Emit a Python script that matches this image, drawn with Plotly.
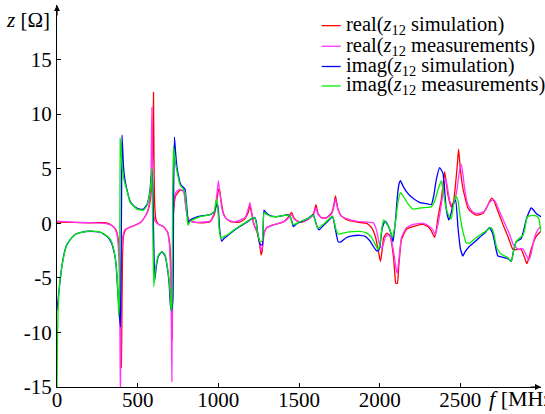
import plotly.graph_objects as go

# ---------------- data (frequency in MHz, impedance in ohm) ----------------
f_real_sim = [0, 100, 200, 300, 340, 365, 380, 390, 396, 399, 402, 406, 412, 425, 445, 480, 520, 545,
              565, 580, 590, 595, 598, 601, 606, 614, 630, 660, 685, 698, 706, 711, 714, 717, 722, 735,
              760, 785, 800, 815, 850, 900, 950, 975, 990, 1000, 1006, 1015, 1030, 1045, 1075, 1130,
              1165, 1185, 1196, 1205, 1220, 1240, 1255, 1265, 1272, 1283, 1300, 1340, 1400, 1430, 1454,
              1468, 1490, 1520, 1560, 1590, 1605, 1618, 1640, 1670, 1700, 1715, 1726, 1740, 1760, 1800,
              1860, 1920, 1950, 1975, 1995, 2005, 2015, 2025, 2045, 2065, 2085, 2095, 2100, 2110, 2118,
              2135, 2166, 2207, 2269, 2300, 2320, 2341, 2352, 2361, 2382, 2398, 2403, 2412, 2423, 2444,
              2458, 2470, 2482, 2489, 2500, 2516, 2547, 2570, 2599, 2640, 2665, 2681, 2695, 2710, 2733,
              2764, 2795, 2826, 2850, 2877, 2895, 2912, 2925, 2939, 2970, 3000]
real_sim = [0.1, 0.08, 0.05, 0.05, -0.2, -0.6, -1.5, -4, -10, -13.2, -9, -3, -1.2, -0.6, -0.4, -0.2, 0.1, 0.6,
            1.2, 2.3, 4.5, 8, 12, 6, 1.5, 0.3, -0.1, -0.3, -0.8, -1.8, -4, -8, -10.7, -5, 1, 2.5,
            3.0, 3.0, 1.5, 0.3, 0.1, 0.05, 0.15, 0.8, 2.0, 3.0, 3.2, 2.3, 1.0, 0.5, 0.15, 0.1,
            0.4, 1.0, 1.6, 1.0, -0.1, -0.8, -1.8, -2.9, -2.5, -0.9, -0.4, -0.15, 0.1, 0.5, 1.0,
            0.5, 0.2, 0.1, 0.4, 0.9, 1.7, 0.9, 0.5, 0.5, 0.9, 1.6, 2.5, 1.4, 0.7, 0.3,
            0.1, 0.0, -0.4, -1.3, -2.8, -3.5, -2.5, -1.3, -0.9, -1.2, -3.0, -4.8, -5.5, -5.5, -4.0,
            -1.5, -0.55, -0.3, -0.1, -0.3, -0.7, -1.3, -0.5, 0.5, 2.2, 4.2, 4.7, 3.8, 2.6, 1.5,
            2.0, 3.5, 5.5, 6.8, 5.0, 3.2, 1.4, 1.0, 0.75, 0.9, 1.5, 2.0, 2.3, 2.0, 1.1,
            -0.1, -1.2, -2.4, -2.4, -2.4, -3.0, -3.7, -3.2, -2.4, -1.2, -0.7]

f_real_meas = [0, 100, 200, 300, 340, 360, 375, 385, 390, 393, 396, 400, 408, 420, 445, 480, 520, 545,
               565, 577, 583, 588, 592, 598, 608, 630, 660, 685, 697, 704, 709, 712, 715, 720, 735, 760,
               785, 800, 815, 850, 950, 975, 990, 1000, 1008, 1020, 1035, 1060, 1100, 1165, 1185, 1196,
               1205, 1220, 1240, 1255, 1265, 1275, 1285, 1300, 1340, 1400, 1430, 1454, 1468, 1490, 1520,
               1560, 1590, 1605, 1618, 1640, 1670, 1700, 1715, 1726, 1740, 1760, 1800, 1870, 1960, 1980,
               2000, 2015, 2035, 2060, 2085, 2100, 2108, 2118, 2135, 2166, 2207, 2269, 2300, 2330, 2345,
               2360, 2380, 2400, 2410, 2420, 2435, 2450, 2465, 2480, 2495, 2506, 2516, 2530, 2550, 2580,
               2610, 2650, 2680, 2705, 2720, 2745, 2775, 2805, 2830, 2860, 2885, 2905, 2925, 2940, 2960,
               2980, 3000]
real_meas = [0.2, 0.1, 0.05, 0.0, -0.2, -0.5, -1.3, -4, -10, -16, -10, -3, -1.2, -0.6, -0.4, -0.2, 0.1, 0.6,
             1.3, 2.5, 5, 10.6, 5, 1.0, 0.2, -0.1, -0.3, -0.8, -2, -5, -10, -14.5, -6, 1, 2.8, 3.1,
             2.9, 1.2, 0.3, 0.1, 0.2, 1.0, 2.5, 3.9, 3.0, 1.5, 0.7, 0.3, 0.15, 0.5, 1.3, 1.9,
             1.2, 0.0, -0.8, -1.7, -2.5, -2.0, -0.8, -0.4, -0.15, 0.1, 0.4, 0.8, 0.4, 0.2, 0.15,
             0.4, 0.8, 1.4, 0.8, 0.5, 0.5, 0.8, 1.4, 2.2, 1.3, 0.7, 0.4, 0.15, 0.05, -0.6,
             -2.0, -2.3, -1.3, -1.0, -2.5, -4.0, -4.6, -3.5, -1.3, -0.4, -0.1, 0.0, -0.2, -0.6, -1.1,
             -0.2, 1.5, 3.5, 4.1, 3.3, 2.0, 1.6, 2.0, 3.2, 4.8, 5.4, 4.5, 2.8, 1.6, 1.0,
             0.9, 1.1, 1.9, 2.2, 1.9, 1.0, 0.0, -1.0, -2.0, -2.4, -2.3, -2.8, -3.4, -2.7, -1.3,
             -0.6, -0.3]

f_imag_sim = [0, 10, 25, 41, 60, 82, 110, 144, 206, 268, 309, 335, 350, 365, 375, 385, 393, 396, 400, 403,
              408, 412, 420, 433, 454, 475, 495, 515, 536, 557, 570, 577, 585, 590, 595, 600, 606, 615,
              629, 650, 670, 685, 695, 703, 710, 718, 723, 728, 735, 743, 755, 763, 775, 783, 794, 804,
              814, 825, 860, 887, 920, 949, 975, 985, 993, 1000, 1008, 1021, 1035, 1052, 1093, 1134,
              1176, 1205, 1225, 1235, 1245, 1258, 1272, 1283, 1295, 1320, 1360, 1400, 1430, 1445, 1458,
              1464, 1480, 1506, 1550, 1588, 1600, 1612, 1625, 1645, 1680, 1708, 1725, 1743, 1760, 1795,
              1830, 1877, 1910, 1939, 1960, 1980, 1992, 2001, 2015, 2032, 2045, 2060, 2075, 2083, 2093,
              2100, 2110, 2120, 2129, 2145, 2166, 2190, 2207, 2250, 2290, 2320, 2335, 2351, 2372, 2392,
              2403, 2413, 2429, 2444, 2454, 2471, 2485, 2500, 2516, 2530, 2557, 2590, 2619, 2650, 2681,
              2702, 2720, 2733, 2760, 2785, 2800, 2816, 2830, 2846, 2877, 2895, 2908, 2925, 2939, 2955,
              2970, 3000]
imag_sim = [-8, -6.5, -4.5, -3.0, -2.0, -1.5, -1.05, -0.85, -0.73, -0.82, -1.2, -1.7, -2.4, -3.6, -5.8, -8, -9.5, -6, 2, 8.1,
            6.5, 5.2, 4.1, 3.1, 2.0, 1.6, 1.4, 1.3, 1.3, 1.7, 2.4, 3.1, 4.3, 4.8, 2, -2, -5.2, -4.0,
            -3.0, -2.6, -3.0, -4.2, -5.5, -7.5, -8, -7, 3, 7.9, 6.5, 5.2, 4.2, 3.7, 3.4, 3.3, 3.1, 1.6,
            0.0, 0.3, 0.55, 0.65, 0.72, 0.8, 1.05, 1.5, 1.9, 1.3, -0.5, -1.65, -1.4, -1.2, -0.7, -0.3,
            0.1, 0.4, 0.55, 0.2, -1.0, -1.9, -2.0, 1.2, 1.0, 0.7, 0.6, 0.7, 0.8, 0.6, 0.1,
            -0.3, -0.1, 0.1, 0.4, 0.8, 0.3, -0.3, -0.6, -0.3, 0.2, 0.6, -0.5, -1.7, -1.7, -1.3,
            -1.15, -1.1, -1.2, -1.6, -2.1, -2.5, -2.5, -2.2, -0.5, 0.2, 0.0, -0.5, -1.2, -1.7, -0.5,
            0.6, 2.5, 3.6, 3.9, 3.4, 2.9, 2.5, 2.3, 1.9, 1.8, 1.7, 2.5, 4.0, 5.1, 4.6,
            3.0, 1.25, 0.3, 1.0, 1.7, 2.1, -0.3, -2.3, -3.0, -2.6, -2.1, -1.7, -1.3, -0.9, -0.4,
            -1.0, -2.3, -3.0, -3.1, -3.2, -3.3, -3.5, -2.5, -1.7, -1.4, -0.5, 0.3, 1.0, 1.4, 1.2,
            0.9, 0.6]

f_imag_meas = [0, 3, 8, 20, 41, 60, 82, 110, 144, 206, 268, 309, 335, 350, 365, 375, 383, 388, 392, 398,
               405, 415, 433, 454, 495, 536, 557, 577, 585, 588, 594, 600, 610, 629, 650, 670, 690, 700,
               707, 712, 717, 722, 730, 743, 763, 783, 794, 804, 812, 825, 887, 949, 975, 988, 996, 1005,
               1015, 1035, 1052, 1093, 1134, 1176, 1205, 1225, 1235, 1245, 1258, 1272, 1283, 1300, 1340,
               1400, 1430, 1445, 1458, 1464, 1480, 1506, 1550, 1588, 1600, 1615, 1625, 1650, 1680, 1708,
               1730, 1745, 1760, 1800, 1877, 1920, 1950, 1975, 1990, 2001, 2015, 2025, 2040, 2060, 2078,
               2090, 2100, 2112, 2129, 2150, 2175, 2207, 2250, 2290, 2320, 2340, 2360, 2382, 2395, 2410,
               2425, 2444, 2458, 2471, 2485, 2500, 2520, 2537, 2560, 2600, 2650, 2690, 2705, 2725, 2750,
               2790, 2816, 2835, 2846, 2870, 2888, 2900, 2915, 2940, 2965, 2985, 3000]
imag_meas = [-15, -11, -7.5, -5, -3.1, -2.0, -1.5, -1.05, -0.85, -0.72, -0.8, -1.15, -1.6, -2.3, -3.6, -5.5, -8.5, -6, 7.8, 6.5,
             5.0, 4.0, 3.0, 1.9, 1.3, 1.2, 1.6, 2.9, 4.2, 5.0, -1, -5.8, -4.2, -2.9, -2.6, -2.9, -4.6, -6,
             -8, -7.5, 3, 7.1, 6.0, 4.8, 3.5, 3.1, 2.8, 1.0, -0.2, 0.2, 0.6, 0.8, 1.1, 2.2, 1.5, -0.5,
             -1.4, -1.2, -1.1, -0.65, -0.25, 0.15, 0.45, 0.5, 0.0, -1.0, -1.7, -1.6, 1.0, 0.8, 0.6,
             0.7, 0.75, 0.6, 0.0, -0.1, -0.05, 0.15, 0.4, 0.75, 0.2, -0.4, -0.4, -0.1, 0.3, 0.65,
             -0.6, -1.0, -0.95, -0.8, -0.75, -0.9, -1.3, -2.0, -2.4, -2.0, -0.3, 0.3, 0.0, -0.4, -1.3,
             -0.6, 0.3, 1.8, 2.8, 2.4, 1.8, 1.3, 1.4, 1.45, 1.5, 2.0, 3.0, 3.9, 2.8, 1.5,
             0.8, 0.4, 1.8, 2.5, 2.1, 0.5, -1.0, -1.8, -1.8, -1.3, -0.8, -0.4, -0.8, -2.2, -2.8,
             -3.1, -3.5, -2.2, -1.7, -1.3, -1.1, -0.5, 0.6, 0.7, 0.7, 0.5, -0.8]

series_names = ["real(<i>z</i><sub>12</sub> simulation)",
                "real(<i>z</i><sub>12</sub> measurements)",
                "imag(<i>z</i><sub>12</sub> simulation)",
                "imag(<i>z</i><sub>12</sub> measurements)"]
series_colors = ["#ff0000", "#ff33ff", "#0000ff", "#00ee00"]

x_tickvals = [0, 500, 1000, 1500, 2000, 2500]
x_ticktext = ["0", "500", "1000", "1500", "2000", "2500"]
y_tickvals = [-15, -10, -5, 0, 5, 10, 15]
y_ticktext = ["-15", "-10", "-5", "0", "5", "10", "15"]

# ---------------- figure ----------------
FONT = "Liberation Serif, Times New Roman, serif"
fig = go.Figure()
series = [(f_real_sim, real_sim), (f_real_meas, real_meas), (f_imag_sim, imag_sim), (f_imag_meas, imag_meas)]
for (fx, fy), name, col in zip(series, series_names, series_colors):
    fig.add_trace(go.Scatter(x=fx, y=fy, mode="lines", name=name,
                             line=dict(color=col, width=1.3, shape="spline", smoothing=0.4),
                             showlegend=False, hoverinfo="skip"))

# manual legend (compact rows like the original)
leg_rows = [0.946, 0.892, 0.839, 0.788]
for name, col, ry in zip(series_names, series_colors, leg_rows):
    fig.add_shape(type="line", xref="paper", yref="paper", x0=0.547, x1=0.586, y0=ry, y1=ry,
                  line=dict(color=col, width=1.3))
    fig.add_annotation(xref="paper", yref="paper", x=0.593, y=ry, text=name, showarrow=False,
                       xanchor="left", yanchor="middle", font=dict(family=FONT, size=20.5, color="black"))

# axis titles
fig.add_annotation(xref="paper", yref="paper", x=0, y=0.962, xshift=-5, text="<i>z</i> [Ω]",
                   showarrow=False, xanchor="right", yanchor="middle",
                   font=dict(family=FONT, size=21, color="black"))
fig.add_annotation(xref="paper", yref="paper", x=0.889, y=-0.030, text="<i>f</i> [MHz]",
                   showarrow=False, xanchor="left", yanchor="middle",
                   font=dict(family=FONT, size=22, color="black"))

# axis arrow heads
fig.add_annotation(xref="paper", yref="paper", x=0, y=1, ax=0, ay=12, text="", showarrow=True,
                   arrowhead=2, arrowsize=1, arrowwidth=1.2, arrowcolor="black")
fig.add_annotation(xref="paper", yref="paper", x=1, y=0, ax=-12, ay=0, text="", showarrow=True,
                   arrowhead=2, arrowsize=1, arrowwidth=1.2, arrowcolor="black")

fig.update_layout(
    width=545, height=414,
    margin=dict(l=57, r=4, t=5, b=27),
    paper_bgcolor="white", plot_bgcolor="white",
    font=dict(family=FONT, size=21, color="black"),
    xaxis=dict(range=[0, 3000], showgrid=False, zeroline=False, showline=True, linecolor="black",
               linewidth=1.2, ticks="inside", ticklen=4, tickcolor="black", tickwidth=1,
               automargin=False, ticklabelstandoff=-6,
               tickvals=x_tickvals, ticktext=x_ticktext, tickfont=dict(family=FONT, size=21)),
    yaxis=dict(range=[-15, 20], showgrid=False, zeroline=False, showline=True, linecolor="black",
               linewidth=1.2, ticks="inside", ticklen=4, tickcolor="black", tickwidth=1,
               automargin=False,
               tickvals=y_tickvals, ticktext=y_ticktext, tickfont=dict(family=FONT, size=21)),
)

fig.write_html("out.html", config={"displayModeBar": False},
               post_script="document.body.style.margin='0';document.body.style.overflow='hidden';")
